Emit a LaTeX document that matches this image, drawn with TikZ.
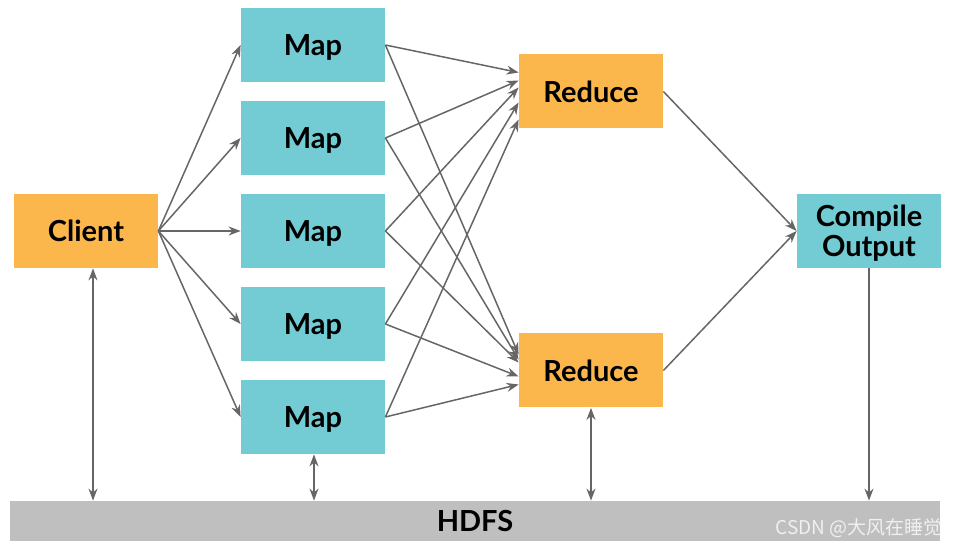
\documentclass[tikz,border=0pt]{standalone}
\usepackage{fontspec}
\setmainfont{Lato}
\newfontfamily\cjk{Noto Sans CJK SC}
\usetikzlibrary{positioning, arrows.meta, calc}
\definecolor{boxorange}{HTML}{FBB64C}
\definecolor{boxteal}{HTML}{73CBD3}
\definecolor{bargray}{HTML}{BFBFBF}
\definecolor{linegray}{HTML}{666666}
\tikzset{
	box/.style={minimum width=72pt, minimum height=37pt, inner sep=0pt, align=center,
		text depth=0pt, font=\fontsize{14.5}{15}\selectfont\bfseries},
	mapbox/.style={box, fill=boxteal},
	redbox/.style={box, fill=boxorange},
	flow/.style={color=linegray, line width=0.75pt, -{Stealth[length=6pt,width=4.5pt]}},
	twoway/.style={color=linegray, line width=0.75pt, {Stealth[length=6pt,width=4.5pt]}-{Stealth[length=6pt,width=4.5pt]}}
}

\begin{document}
\begin{tikzpicture}[x=0.5pt,y=-0.5pt,node distance=46.5pt,on grid]
			\useasboundingbox (0,0) rectangle (965,550);
			\node[redbox] (client) at (86,231)		{Client};
			\node[mapbox] (m3) [right=113.5pt of client]	{Map};
			\node[mapbox] (m2) [above=of m3]		{Map};
			\node[mapbox] (m1) [above=of m2]		{Map};
			\node[mapbox] (m4) [below=of m3]		{Map};
			\node[mapbox] (m5) [below=of m4]		{Map};
			\node[redbox] (r1) at ($(m1)!.5!(m2)+(278,0)$)	{Reduce};
			\node[redbox] (r2) at ($(m4)!.5!(m5)+(278,0)$)	{Reduce};
			\node[mapbox] (out) [right=278pt of m3]		{Compile\\Output};
			\node[fill=bargray, minimum width=465pt, minimum height=20pt, inner sep=0pt, text depth=0pt,
				font=\fontsize{14.5}{15}\selectfont\bfseries] (hdfs) at (475,521) {HDFS};
			\node[anchor=east, text=white!88!gray, font=\cjk\fontsize{9.5}{10}\selectfont] (mark) at (950,528) {CSDN @大风在睡觉};
			\path[flow] 	(client.east) edge (m1.west)
							edge (m2.west)
							edge (m3.west)
							edge (m4.west)
							edge (m5.west)
						(m1.east) edge ([yshift=9.5pt]r1.west)
							edge ([yshift=8pt]r2.west)
						(m2.east) edge ([yshift=5.5pt]r1.west)
							edge ([yshift=5.5pt]r2.west)
						(m3.east) edge ([yshift=2pt]r1.west)
							edge ([yshift=4pt]r2.west)
						(m4.east) edge ([yshift=-5.5pt]r1.west)
							edge ([yshift=-3pt]r2.west)
						(m5.east) edge ([yshift=-14pt]r1.west)
							edge ([yshift=-7pt]r2.west)
						(r1.east) edge (out.west)
						(r2.east) edge (out.west)
						(out.south) edge (out.south |- hdfs.north);
			\path[twoway] 	([xshift=3.5pt]client.south) edge ([xshift=3.5pt]client.south |- hdfs.north)
						([xshift=0.5pt]m5.south) edge ([xshift=0.5pt]m5.south |- hdfs.north)
						(r2.south) edge (r2.south |- hdfs.north);
	\end{tikzpicture}
\end{document}
